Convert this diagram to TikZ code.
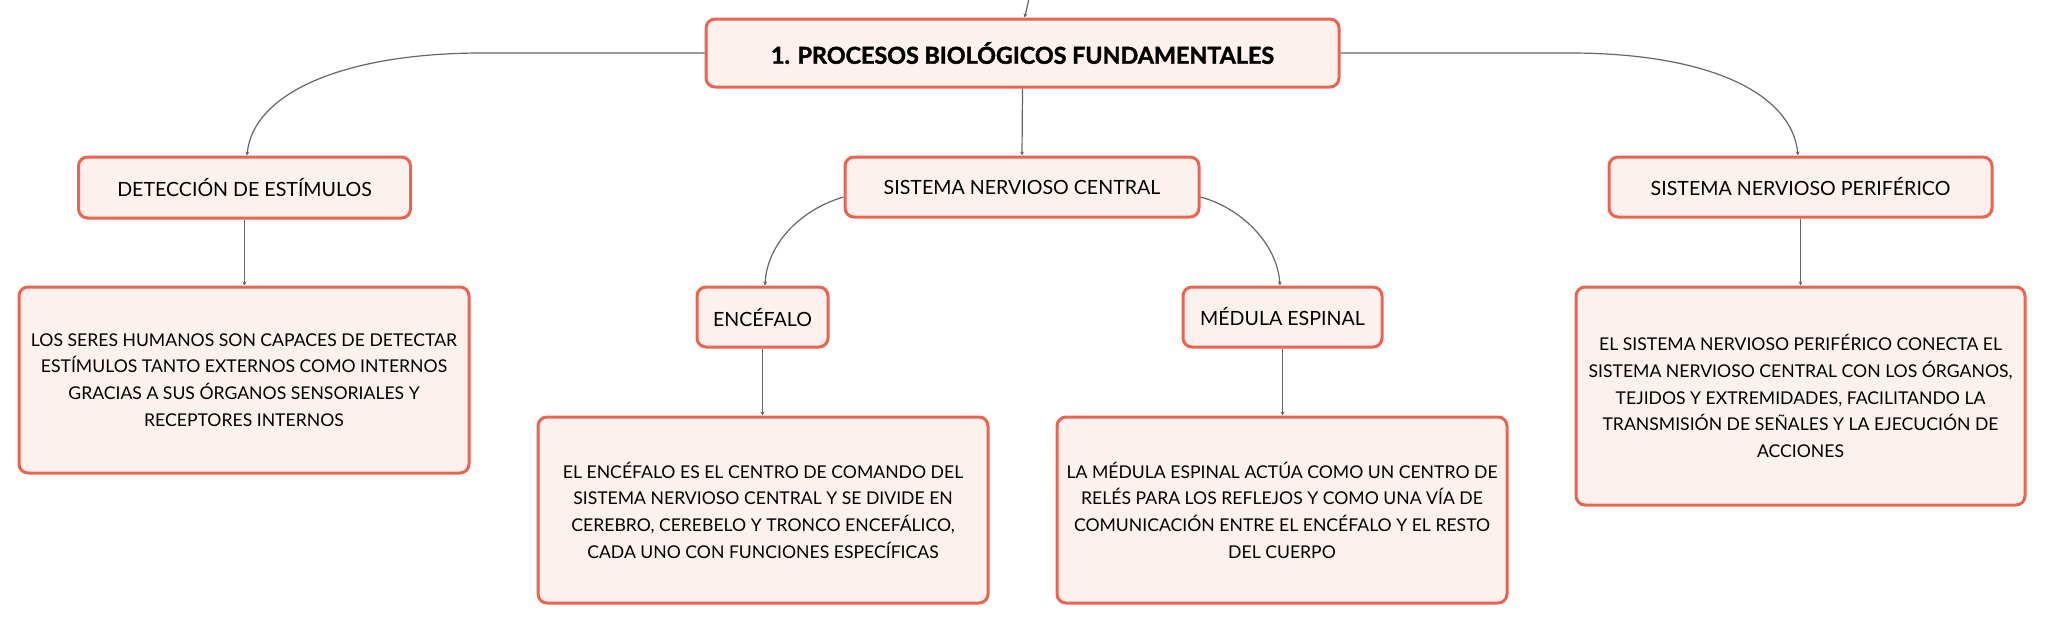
\documentclass[tikz,border=0pt]{standalone}
\usepackage{fontspec}
\setmainfont{Lato}
\newfontfamily\titlefont{Lato}[FakeBold=1.6]
\usetikzlibrary{arrows.meta,calc}
\definecolor{bord}{HTML}{EC6450}
\definecolor{boxfill}{HTML}{FDF1EE}
\definecolor{conn}{HTML}{666666}
\begin{document}
\begin{tikzpicture}[x=1pt,y=-1pt,
  box/.style={draw=bord, fill=boxfill, line width=3pt, rounded corners=9pt, align=center, inner sep=0pt, text=black},
  link/.style={draw=conn, line width=1.2pt, -{Stealth[length=4pt,width=4pt]}},
  bodytext/.style={font=\fontsize{17.6}{26.7}\selectfont},
  labeltext/.style={font=\fontsize{19.6}{23}\selectfont},
  titletext/.style={font=\fontsize{23.3}{27}\titlefont\bfseries}]
\fill[white] (0,0) rectangle (2046,624);
\useasboundingbox (0,0) rectangle (2046,624);

% level 0
\node[box, titletext, minimum width=633pt, minimum height=68pt] (main) at (1022.5,53) {1. PROCESOS BIOLÓGICOS FUNDAMENTALES};

% level 1
\node[box, labeltext, minimum width=332pt, minimum height=61pt] (det) at (244.5,187.5) {DETECCIÓN DE ESTÍMULOS};
\node[box, labeltext, minimum width=354pt, minimum height=60pt] (snc) at (1022,187) {SISTEMA NERVIOSO CENTRAL};
\node[box, labeltext, minimum width=383pt, minimum height=60pt] (snp) at (1800.5,187) {SISTEMA NERVIOSO PERIFÉRICO};

% level 2
\node[box, labeltext, minimum width=131pt, minimum height=60pt] (enc) at (762.5,317) {ENCÉFALO};
\node[box, labeltext, minimum width=199pt, minimum height=60pt] (med) at (1282.5,317) {MÉDULA ESPINAL};

% text boxes
\node[box, bodytext, minimum width=450pt, minimum height=186pt] (dettxt) at (244,380)
  {LOS SERES HUMANOS SON CAPACES DE DETECTAR\\ESTÍMULOS TANTO EXTERNOS COMO INTERNOS\\GRACIAS A SUS ÓRGANOS SENSORIALES Y\\RECEPTORES INTERNOS};
\node[box, bodytext, minimum width=449pt, minimum height=218pt] (snptxt) at (1800.5,396)
  {EL SISTEMA NERVIOSO PERIFÉRICO CONECTA EL\\SISTEMA NERVIOSO CENTRAL CON LOS ÓRGANOS,\\TEJIDOS Y EXTREMIDADES, FACILITANDO LA\\TRANSMISIÓN DE SEÑALES Y LA EJECUCIÓN DE\\ACCIONES};
\node[box, bodytext, minimum width=450pt, minimum height=186pt] (enctxt) at (763,510)
  {EL ENCÉFALO ES EL CENTRO DE COMANDO DEL\\SISTEMA NERVIOSO CENTRAL Y SE DIVIDE EN\\CEREBRO, CEREBELO Y TRONCO ENCEFÁLICO,\\CADA UNO CON FUNCIONES ESPECÍFICAS};
\node[box, bodytext, minimum width=450pt, minimum height=186pt] (medtxt) at (1282,510)
  {LA MÉDULA ESPINAL ACTÚA COMO UN CENTRO DE\\RELÉS PARA LOS REFLEJOS Y COMO UNA VÍA DE\\COMUNICACIÓN ENTRE EL ENCÉFALO Y EL RESTO\\DEL CUERPO};

% connectors
\coordinate (topin) at (1029,-2);
\draw[link] (topin) .. controls (1027,8) .. ($(main.north)+(2,0)$);
\draw[link] (main.south) -- (snc.north);
\draw[link] (main.west) -- ++(-222,0) .. controls +(-140,0) and +(6,-62) .. ($(det.north)+(2.5,0)$);
\draw[link] (main.east) -- ++(229,0) .. controls +(140,0) and +(-6,-62) .. ($(snp.north)+(-2.5,0)$);
\draw[link] ($(snc.west)+(0,10)$) .. controls +(-44,13) and +(2,-41) .. ($(enc.north)+(2.5,0)$);
\draw[link] ($(snc.east)+(0,10)$) .. controls +(38,10) and +(-3,-44) .. ($(med.north)+(-2.5,0)$);
\draw[link] (det.south) -- (dettxt.north -| det.south);
\draw[link] (snp.south) -- (snptxt.north -| snp.south);
\draw[link] (enc.south) -- (enctxt.north -| enc.south);
\draw[link] (med.south) -- (medtxt.north -| med.south);
\end{tikzpicture}
\end{document}
